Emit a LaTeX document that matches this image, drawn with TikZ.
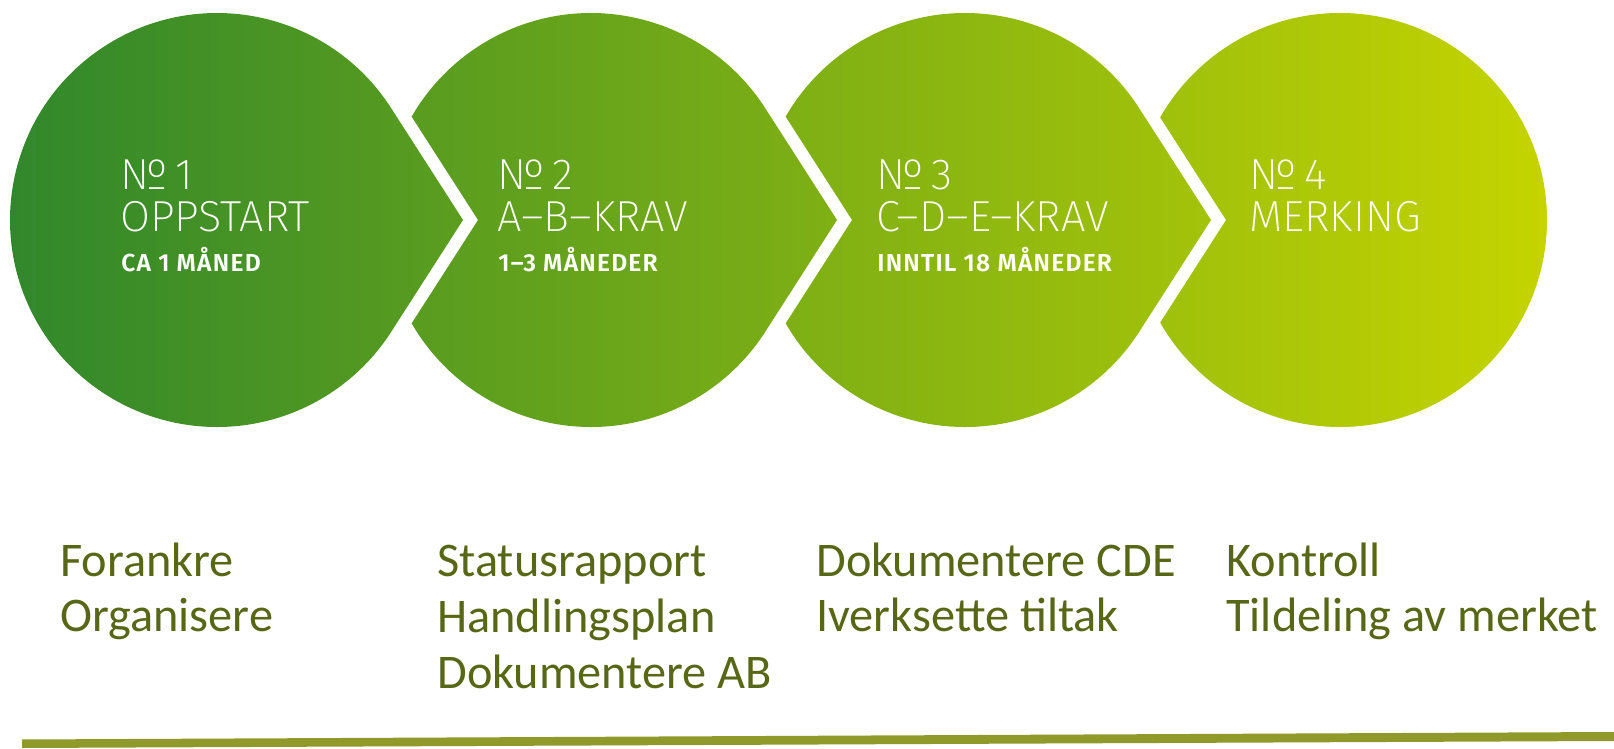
\documentclass[tikz,border=0pt]{standalone}
\usepackage{fontspec}
\setmainfont{Carlito}
\IfFontExistsTF{Fira Sans ExtraLight}{\newfontfamily\thinfont{Fira Sans ExtraLight}}{%
  \IfFontExistsTF{Fira Sans Light}{\newfontfamily\thinfont{Fira Sans Light}}{%
    \newfontfamily\thinfont{Fira Sans}}}
\IfFontExistsTF{Fira Sans SemiBold}{\newfontfamily\semifont{Fira Sans SemiBold}[LetterSpace=5]}{%
  \newfontfamily\semifont{Fira Sans}[UprightFont=*-Bold,LetterSpace=5]}
\usetikzlibrary{positioning}

\definecolor{stageA}{RGB}{46,134,44}
\definecolor{stageZ}{RGB}{197,212,0}
\definecolor{listolive}{RGB}{88,103,22}
\definecolor{barolive}{RGB}{143,154,42}

% circle with a pointed tip to the right, centre x given
\newcommand{\dropshape}[1]{(#1+246,528) -- (#1+174.2,639.8) arc[start angle=32.7,end angle=327.3,radius=207] -- cycle}

\begin{document}
\begin{tikzpicture}[x=0.02cm,y=0.02cm]
	\tikzstyle{halo}=[draw=white,line width=0.5cm,miter limit=20]
	\tikzstyle{stagenum}=[anchor=base west,inner sep=0pt,text=white,font=\thinfont\fontsize{24.7}{26}\selectfont]
	\tikzstyle{stagetime}=[anchor=base west,inner sep=0pt,text=white,font=\semifont\fontsize{14}{16}\selectfont]
	\tikzstyle{tasklist}=[anchor=base west,inner sep=0pt,align=left,text=listolive,font=\fontsize{27.5}{31.7}\selectfont]

  \useasboundingbox (0,0) rectangle (1614,748);

  % from right to left, so every tip cuts a notch in the next one
  \shade[left color=stageA!27!stageZ,right color=stageZ] (1340,528) circle[radius=207];
  \draw[halo] \dropshape{965};
  \shade[left color=stageA!51!stageZ,right color=stageA!22!stageZ] \dropshape{965};
  \draw[halo] \dropshape{591};
  \shade[left color=stageA!76!stageZ,right color=stageA!46!stageZ] \dropshape{591};
  \draw[halo] \dropshape{217};
  \shade[left color=stageA,right color=stageA!70!stageZ] \dropshape{217};

  \node[stagenum]  (num1)   at (120,558) {№\,1};
  \node[stagenum]  (title1) at (120,516) {OPPSTART};
  \node[stagetime] (time1)  at (121,476) {CA 1 MÅNED};

  \node[stagenum]  (num2)   at (497,558) {№\,2};
  \node[stagenum]  (title2) at (497,516) {A–B–KRAV};
  \node[stagetime] (time2)  at (498,476) {1–3 MÅNEDER};

  \node[stagenum]  (num3)   at (876,558) {№\,3};
  \node[stagenum]  (title3) at (876,516) {C–D–E–KRAV};
  \node[stagetime] (time3)  at (877,476) {INNTIL 18 MÅNEDER};

  \node[stagenum]  (num4)   at (1249,558) {№\,4};
  \node[stagenum]  (title4) at (1249,516) {MERKING};

  % base of a list node is its last line
  \node[tasklist] (list1) at (60,116)   {Forankre\\Organisere};
  \node[tasklist] (list2) at (437,60)   {Statusrapport\\Handlingsplan\\Dokumentere AB};
  \node[tasklist] (list3) at (816,116)  {Dokumentere CDE\\Iverksette tiltak};
  \node[tasklist] (list4) at (1226,116) {Kontroll\\Tildeling av merket};

  \fill[barolive] (22,0) -- (22,8.5) -- (1614,16) -- (1614,7) -- cycle;
\end{tikzpicture}
\end{document}
